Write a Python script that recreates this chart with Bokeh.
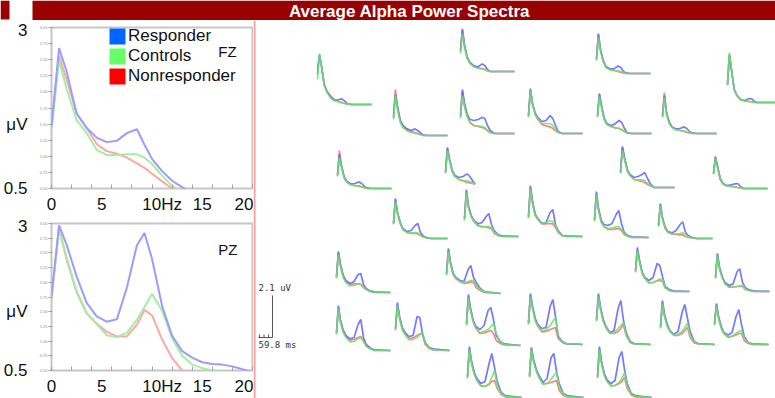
import numpy as np
from bokeh.plotting import figure
from bokeh.layouts import column, row
from bokeh.models import (Range1d, LinearAxis, FixedTicker, PrintfTickFormatter,
                          Label, Legend, LegendItem, Span, BoxAnnotation)
from bokeh.embed import file_html
from bokeh.resources import INLINE

nan = float("nan")

TITLE = "Average Alpha Power Spectra"
GROUPS = ["Responder", "Controls", "Nonresponder"]

# ---- main panels (FZ, PZ): power in uV vs frequency in Hz ----
FREQ = [0, 0.75, 1.5, 2.5, 3.5, 4.5, 5.5, 6.5, 7.5, 8.5, 9.25, 10, 11, 12, 13, 14, 15, 16, 17, 18, 19, 20]
FZ_RESP = [1.46, 2.68, 2.32, 1.66, 1.44, 1.29, 1.22, 1.24, 1.36, 1.42, 1.18, 0.96, 0.77, 0.62, 0.52, 0.44, 0.40, 0.37, 0.35, 0.34, 0.33, 0.32]
FZ_CTRL = [1.41, 2.49, 2.05, 1.56, 1.36, 1.10, 1.02, 1.02, 1.03, 1.03, 0.98, 0.88, 0.70, 0.54, 0.44, 0.38, 0.35, 0.33, 0.32, 0.31, 0.30, 0.30]
FZ_NONR = [1.48, 2.56, 2.19, 1.67, 1.44, 1.19, 1.08, 1.04, 0.98, 0.89, 0.82, 0.73, 0.61, 0.50, 0.42, 0.37, 0.34, 0.32, 0.31, 0.30, 0.30, 0.29]
PZ_RESP = [1.76, 2.97, 2.64, 2.10, 1.65, 1.42, 1.33, 1.37, 1.91, 2.63, 2.84, 2.40, 1.60, 1.09, 0.83, 0.72, 0.64, 0.61, 0.60, 0.57, 0.52, 0.48]
PZ_CTRL = [1.71, 2.91, 2.43, 1.85, 1.48, 1.29, 1.10, 1.07, 1.14, 1.36, 1.58, 1.80, 1.52, 1.05, 0.75, 0.60, 0.54, 0.50, 0.47, 0.45, 0.44, 0.43]
PZ_NONR = [1.76, 2.92, 2.39, 1.83, 1.47, 1.30, 1.16, 1.08, 1.08, 1.28, 1.53, 1.44, 1.03, 0.71, 0.50, 0.42, 0.38, 0.36, 0.35, 0.34, 0.33, 0.33]
X_TICKS = [0, 5, 10, 15, 20]
X_TICK_LABELS = ["0", "5", "10Hz", "15", "20"]
Y_TICKS_INNER = [0.5, 0.75, 1.0, 1.25, 1.5, 1.75, 2.0, 2.25, 2.5, 2.75, 3.0]

# ---- small topographic spectra (one per electrode), uV at MINI_FREQ ----
MINI_FREQ = [0, 0.7, 1.5, 2.5, 3.5, 5, 6.5, 8, 9, 10, 11, 12.5, 14, 20]
MINI_RESP = [
    [2.0, 3.0, 2.4, 1.5, 1.15, 0.9, 0.7, 0.75, 0.78, 0.68, 0.55, 0.5, 0.5, 0.5],
    [1.5, 2.6, 1.8, 1.2, 0.95, 0.78, 0.73, 0.88, 0.8, 0.6, 0.5, 0.5, 0.5, 0.5],
    [1.4, 2.55, 1.9, 1.25, 1.0, 0.83, 0.75, 0.83, 0.75, 0.63, 0.53, 0.5, 0.5, 0.5],
    [1.35, 2.7, 2.0, 1.45, 1.2, 1.15, 1.2, 1.3, 1.25, 0.9, 0.65, 0.5, 0.5, 0.5],
    [1.4, 2.75, 2.0, 1.5, 1.3, 1.1, 1.15, 1.4, 1.25, 0.9, 0.6, 0.5, 0.5, 0.5],
    [1.15, 2.2, 1.6, 1.05, 0.85, 0.73, 0.75, 0.83, 0.75, 0.6, 0.53, 0.5, 0.5, 0.5],
    [1.1, 2.35, 1.75, 1.2, 0.95, 0.85, 0.9, 1.03, 0.9, 0.7, 0.53, nan, nan, nan],
    [1.2, 2.5, 1.7, 1.15, 0.85, 0.73, 0.73, 0.88, 0.8, 0.6, 0.53, 0.5, 0.5, 0.5],
    [1.4, 2.9, 2.1, 1.15, 0.85, 0.63, 0.6, 0.7, 0.68, 0.55, 0.5, 0.5, 0.5, 0.5],
    [1.4, 2.5, 1.9, 1.25, 1.0, 0.9, 0.98, 1.15, 1.05, 0.75, 0.53, 0.5, 0.5, 0.5],
    [1.35, 2.4, 1.5, 1.05, 0.83, 0.73, 0.75, 0.83, 0.75, 0.6, 0.53, 0.5, 0.5, 0.5],
    [1.25, 2.55, 2.0, 1.4, 1.15, 1.0, 1.05, 1.15, 1.25, 0.95, 0.7, 0.5, 0.5, 0.5],
    [1.25, 2.1, 1.6, 1.0, 0.75, 0.65, 0.68, 0.73, 0.75, 0.6, 0.5, 0.5, 0.5, 0.5],
    [1.25, 2.5, 1.8, 1.3, 1.0, 0.85, 0.9, 1.15, 1.25, 0.8, 0.63, 0.53, 0.5, 0.5],
    [1.4, 2.85, 2.0, 1.55, 1.3, 1.13, 1.2, 1.5, 1.65, 1.1, 0.8, 0.58, 0.53, 0.5],
    [1.5, 3.05, 2.25, 1.6, 1.4, 1.15, 1.2, 1.7, 1.85, 1.1, 0.8, 0.55, 0.53, 0.5],
    [1.3, 2.55, 1.9, 1.35, 1.1, 0.95, 1.05, 1.4, 1.45, 0.9, 0.7, 0.58, 0.53, 0.5],
    [1.5, 2.75, 2.05, 1.5, 1.3, 1.15, 1.1, 1.7, 1.9, 1.3, 1.05, 0.75, 0.6, 0.5],
    [1.4, 2.75, 2.0, 1.5, 1.25, 1.08, 1.15, 1.8, 2.05, 1.15, 0.8, 0.63, 0.53, 0.5],
    [1.6, 2.9, 2.2, 1.65, 1.4, 1.2, 1.25, 2.2, 2.15, 1.35, 0.9, 0.65, 0.58, 0.5],
    [1.6, 3.05, 2.35, 1.75, 1.45, 1.3, 1.5, 2.25, 2.4, 1.8, 1.0, 0.7, 0.58, 0.5],
    [1.55, 3.05, 2.3, 1.75, 1.45, 1.2, 1.3, 2.2, 2.7, 2.0, 1.3, 0.75, 0.6, 0.5],
    [1.4, 2.8, 1.95, 1.35, 1.15, 1.1, 1.2, 1.65, 1.85, 1.2, 0.75, 0.58, 0.53, 0.5],
    [1.15, 2.25, 1.5, 1.05, 0.85, 0.78, 0.9, 1.2, 1.33, 0.8, 0.65, 0.55, 0.5, 0.5],
    [1.55, 2.7, 2.05, 1.45, 1.2, 1.05, 1.2, 1.9, 1.8, 1.25, 0.75, 0.6, 0.53, 0.5],
    [1.2, 2.4, 1.7, 1.25, 0.95, 0.8, 0.88, 1.5, 1.63, 0.95, 0.7, 0.58, 0.53, 0.5],
    [1.6, 3.05, 2.4, 1.8, 1.5, 1.3, 1.35, 2.4, 2.75, 1.9, 0.9, 0.65, 0.55, 0.5],
    [1.75, 3.05, 2.35, 1.75, 1.4, 1.1, 1.2, 2.3, 2.7, 1.7, 1.1, 0.65, 0.55, 0.5],
    [1.4, 2.7, 2.0, 1.5, 1.2, 1.0, 1.15, 2.1, 2.5, 1.8, 1.15, 0.65, 0.55, 0.5],
    [1.55, 2.55, 1.9, 1.4, 1.1, 0.98, 1.1, 1.9, 2.25, 1.5, 0.9, 0.6, 0.53, 0.5],
    [1.6, 3.0, 2.4, 1.9, 1.6, 1.25, 1.45, 2.5, 2.7, 1.8, 1.2, 0.7, 0.6, 0.5],
    [1.55, 3.05, 2.3, 1.7, 1.4, 1.2, 1.35, 2.5, 2.8, 1.9, 1.2, 0.7, 0.6, 0.5],
]
MINI_CTRL = [
    [1.75, 3.05, 2.4, 1.45, 1.1, 0.8, 0.68, 0.63, 0.58, 0.55, 0.53, 0.5, 0.5, 0.5],
    [1.4, 2.4, 1.7, 1.15, 0.9, 0.73, 0.65, 0.63, 0.6, 0.55, 0.5, 0.5, 0.5, 0.5],
    [1.3, 2.5, 1.8, 1.15, 0.9, 0.73, 0.65, 0.6, 0.58, 0.55, 0.5, 0.5, 0.5, 0.5],
    [1.25, 2.4, 1.85, 1.35, 1.05, 0.9, 0.88, 0.85, 0.8, 0.65, 0.55, 0.5, 0.5, 0.5],
    [1.3, 2.65, 1.95, 1.45, 1.2, 1.0, 1.0, 1.0, 0.9, 0.7, 0.55, 0.5, 0.5, 0.5],
    [1.1, 2.05, 1.55, 1.0, 0.8, 0.68, 0.63, 0.6, 0.58, 0.55, 0.5, 0.5, 0.5, 0.5],
    [1.05, 2.2, 1.7, 1.15, 0.9, 0.75, 0.7, 0.68, 0.65, 0.58, 0.53, nan, nan, nan],
    [1.15, 2.3, 1.6, 1.1, 0.8, 0.68, 0.65, 0.63, 0.6, 0.55, 0.5, 0.5, 0.5, 0.5],
    [1.35, 3.0, 2.15, 1.15, 0.85, 0.63, 0.58, 0.55, 0.53, 0.5, 0.5, 0.5, 0.5, 0.5],
    [1.3, 2.35, 1.8, 1.2, 0.95, 0.85, 0.8, 0.75, 0.7, 0.6, 0.53, 0.5, 0.5, 0.5],
    [1.3, 2.3, 1.45, 1.0, 0.8, 0.68, 0.65, 0.63, 0.58, 0.55, 0.5, 0.5, 0.5, 0.5],
    [1.2, 2.35, 1.9, 1.35, 1.1, 0.9, 0.88, 0.88, 0.85, 0.7, 0.6, 0.5, 0.5, 0.5],
    [1.2, 2.0, 1.55, 0.95, 0.73, 0.63, 0.6, 0.58, 0.55, 0.53, 0.5, 0.5, 0.5, 0.5],
    [1.2, 2.35, 1.75, 1.25, 0.95, 0.8, 0.78, 0.78, 0.78, 0.65, 0.58, 0.53, 0.5, 0.5],
    [1.3, 2.7, 1.9, 1.5, 1.25, 1.03, 1.0, 1.0, 1.0, 0.95, 0.7, 0.55, 0.5, 0.5],
    [1.4, 2.9, 2.15, 1.55, 1.35, 1.15, 1.2, 1.3, 1.25, 1.05, 0.75, 0.55, 0.5, 0.5],
    [1.2, 2.4, 1.8, 1.25, 1.0, 0.83, 0.85, 0.95, 0.93, 0.75, 0.65, 0.55, 0.5, 0.5],
    [1.4, 2.6, 1.95, 1.45, 1.25, 1.1, 1.05, 1.1, 1.15, 1.15, 0.9, 0.7, 0.58, 0.5],
    [1.3, 2.6, 1.9, 1.4, 1.15, 0.93, 0.95, 1.1, 1.15, 0.95, 0.7, 0.58, 0.5, 0.5],
    [1.5, 2.75, 2.1, 1.55, 1.3, 1.03, 1.05, 1.15, 1.3, 1.4, 0.9, 0.63, 0.53, 0.5],
    [1.5, 2.9, 2.25, 1.65, 1.35, 1.15, 1.2, 1.3, 1.45, 1.6, 1.1, 0.7, 0.55, 0.5],
    [1.45, 2.9, 2.2, 1.65, 1.35, 1.05, 1.05, 1.2, 1.5, 1.85, 1.05, 0.7, 0.55, 0.5],
    [1.3, 2.65, 1.85, 1.25, 1.05, 0.95, 0.98, 1.03, 1.05, 0.9, 0.7, 0.55, 0.5, 0.5],
    [1.1, 2.15, 1.45, 1.0, 0.8, 0.73, 0.73, 0.75, 0.78, 0.65, 0.58, 0.53, 0.5, 0.5],
    [1.45, 2.55, 1.95, 1.4, 1.15, 0.93, 0.95, 1.05, 1.13, 1.1, 0.7, 0.55, 0.5, 0.5],
    [1.15, 2.3, 1.6, 1.2, 0.9, 0.7, 0.73, 0.75, 0.78, 0.8, 0.63, 0.55, 0.5, 0.5],
    [1.5, 2.9, 2.3, 1.7, 1.4, 1.18, 1.23, 1.45, 1.65, 1.85, 0.95, 0.65, 0.55, 0.5],
    [1.65, 2.9, 2.25, 1.65, 1.35, 1.05, 1.1, 1.3, 1.45, 1.6, 1.0, 0.6, 0.53, 0.5],
    [1.3, 2.55, 1.9, 1.4, 1.15, 0.95, 1.0, 1.15, 1.35, 1.55, 0.95, 0.6, 0.53, 0.5],
    [1.45, 2.45, 1.8, 1.3, 1.05, 0.88, 0.93, 1.05, 1.15, 1.2, 0.8, 0.58, 0.5, 0.5],
    [1.5, 2.9, 2.3, 1.8, 1.5, 1.15, 1.2, 1.4, 1.6, 1.75, 1.0, 0.65, 0.55, 0.5],
    [1.45, 2.9, 2.2, 1.6, 1.3, 1.05, 1.1, 1.25, 1.45, 1.75, 1.05, 0.65, 0.55, 0.5],
]
MINI_NONR = [
    [2.25, 2.95, 2.4, 1.5, 1.15, 0.85, 0.73, 0.65, 0.6, 0.55, 0.53, 0.5, 0.5, 0.5],
    [1.6, 2.65, 1.8, 1.2, 0.93, 0.75, 0.68, 0.65, 0.6, 0.53, 0.5, 0.5, 0.5, 0.5],
    [1.5, 2.8, 1.95, 1.25, 0.95, 0.78, 0.7, 0.65, 0.6, 0.55, 0.5, 0.5, 0.5, 0.5],
    [1.4, 2.6, 1.9, 1.35, 1.05, 0.9, 0.85, 0.8, 0.75, 0.65, 0.55, 0.5, 0.5, 0.5],
    [1.4, 2.7, 1.95, 1.45, 1.2, 0.95, 0.88, 0.83, 0.75, 0.65, 0.55, 0.5, 0.5, 0.5],
    [1.2, 2.4, 1.65, 1.05, 0.83, 0.7, 0.65, 0.63, 0.58, 0.53, 0.5, 0.5, 0.5, 0.5],
    [1.15, 2.3, 1.75, 1.15, 0.9, 0.75, 0.68, 0.6, 0.58, 0.55, 0.5, nan, nan, nan],
    [1.25, 2.45, 1.65, 1.1, 0.83, 0.7, 0.65, 0.6, 0.55, 0.53, 0.5, 0.5, 0.5, 0.5],
    [1.4, 2.9, 2.1, 1.15, 0.85, 0.63, 0.58, 0.55, 0.53, 0.5, 0.5, 0.5, 0.5, 0.5],
    [1.35, 2.45, 1.85, 1.2, 0.95, 0.85, 0.78, 0.75, 0.68, 0.6, 0.53, 0.5, 0.5, 0.5],
    [1.4, 2.55, 1.55, 1.05, 0.83, 0.7, 0.65, 0.6, 0.55, 0.53, 0.5, 0.5, 0.5, 0.5],
    [1.25, 2.5, 1.95, 1.35, 1.1, 0.9, 0.85, 0.8, 0.75, 0.65, 0.58, 0.5, 0.5, 0.5],
    [1.25, 2.05, 1.6, 0.95, 0.73, 0.63, 0.6, 0.58, 0.55, 0.53, 0.5, 0.5, 0.5, 0.5],
    [1.25, 2.45, 1.75, 1.25, 0.95, 0.8, 0.75, 0.75, 0.73, 0.65, 0.58, 0.53, 0.5, 0.5],
    [1.35, 2.75, 1.95, 1.5, 1.25, 1.03, 0.98, 0.98, 0.93, 0.88, 0.65, 0.55, 0.5, 0.5],
    [1.45, 2.95, 2.2, 1.55, 1.35, 1.13, 1.13, 1.15, 1.13, 0.95, 0.7, 0.55, 0.5, 0.5],
    [1.25, 2.5, 1.85, 1.3, 1.05, 0.9, 0.93, 0.93, 0.9, 0.75, 0.65, 0.55, 0.5, 0.5],
    [1.45, 2.65, 2.0, 1.45, 1.25, 1.1, 1.0, 1.03, 1.08, 1.05, 0.8, 0.65, 0.55, 0.5],
    [1.35, 2.65, 1.95, 1.45, 1.2, 1.0, 1.05, 1.15, 1.2, 1.0, 0.75, 0.6, 0.5, 0.5],
    [1.55, 2.8, 2.15, 1.6, 1.35, 1.1, 1.13, 1.25, 1.33, 1.3, 0.8, 0.6, 0.53, 0.5],
    [1.55, 2.95, 2.3, 1.7, 1.35, 1.1, 1.13, 1.2, 1.25, 1.1, 0.75, 0.6, 0.53, 0.5],
    [1.5, 2.95, 2.25, 1.7, 1.35, 1.1, 1.05, 1.15, 1.3, 1.35, 0.95, 0.65, 0.53, 0.5],
    [1.35, 2.7, 1.9, 1.3, 1.05, 0.9, 0.9, 0.93, 0.95, 0.85, 0.65, 0.55, 0.5, 0.5],
    [1.15, 2.2, 1.5, 1.0, 0.8, 0.73, 0.7, 0.68, 0.68, 0.6, 0.55, 0.53, 0.5, 0.5],
    [1.5, 2.6, 2.0, 1.4, 1.15, 0.93, 0.95, 1.03, 1.05, 1.0, 0.68, 0.55, 0.5, 0.5],
    [1.2, 2.35, 1.65, 1.2, 0.9, 0.73, 0.73, 0.75, 0.75, 0.75, 0.6, 0.55, 0.5, 0.5],
    [1.55, 2.95, 2.35, 1.7, 1.4, 1.13, 1.15, 1.25, 1.3, 1.35, 0.8, 0.6, 0.53, 0.5],
    [1.7, 2.95, 2.3, 1.7, 1.35, 1.05, 1.05, 1.15, 1.3, 1.5, 0.95, 0.6, 0.53, 0.5],
    [1.35, 2.6, 1.95, 1.45, 1.15, 0.95, 0.95, 1.05, 1.2, 1.35, 0.85, 0.58, 0.53, 0.5],
    [1.5, 2.5, 1.85, 1.35, 1.05, 0.85, 0.9, 0.98, 1.05, 1.05, 0.7, 0.55, 0.5, 0.5],
    [1.55, 2.95, 2.35, 1.85, 1.55, 1.2, 1.2, 1.25, 1.3, 1.35, 0.85, 0.6, 0.53, 0.5],
    [1.5, 2.95, 2.25, 1.65, 1.35, 1.1, 1.1, 1.2, 1.3, 1.5, 0.95, 0.63, 0.53, 0.5],
]
SCALE_UV = 2.1
SCALE_MS = 59.8

# ---- layout (positions / sizes / styles) ----
# mini plot anchors in page-pixel space: left edge, floor line
MINI_X0 = [317, 460, 393, 460, 528, 337, 445, 596, 727, 597, 662, 620, 713, 393, 464, 528,
           336, 446, 336, 395, 466, 467, 594, 658, 635, 715, 528, 596, 660, 714, 529, 597]
MINI_Y0 = [104, 71, 135, 133, 133, 188, 184, 73, 102, 133, 133, 187, 188, 238, 236, 236,
           292, 293, 350, 350, 345, 397, 237, 238, 291, 291, 344, 344, 344, 344, 397, 397]
MINI_PX_PER_HZ = 2.7
MINI_PX_PER_UV = 20.0
MINI_FLOOR = 0.5

PAGE_W, PAGE_H = 775, 398
LEFT_W = 253
RIGHT_W = PAGE_W - LEFT_W
TITLE_H, FZ_H = 20, 196
PZ_H = PAGE_H - TITLE_H - FZ_H
RIGHT_H = PAGE_H - TITLE_H
BORDER_L, BORDER_R, BORDER_T = 45, 1, 7

FONT = "Liberation Sans"
TICK_FONT_PX = 17
MAIN_COLORS = {"Responder": "#9c9cff", "Controls": "#a3eea3", "Nonresponder": "#ffa6a6"}
MINI_COLORS = {"Responder": "#6262ff", "Controls": "#6ae46a", "Nonresponder": "#ff6c6c"}
LEGEND_COLORS = {"Responder": "#0066ff", "Controls": "#66ff66", "Nonresponder": "#ff0000"}
BAR_RED = "#990000"

# "Hz" is written right after the 10 tick; shift that tick label so "10" stays centred on 10
_px_per_hz = (LEFT_W - BORDER_L - BORDER_R) / 20.0
_hz_half_px = (0.722 + 0.5) * TICK_FONT_PX / 2.0
X_LABEL_POS = [t + (_hz_half_px / _px_per_hz if lab.endswith("Hz") else 0.0)
               for t, lab in zip(X_TICKS, X_TICK_LABELS)]


def main_panel(name, series, height, name_y, with_legend):
    p = figure(width=LEFT_W, height=height, x_range=Range1d(0, 20), y_range=Range1d(0.5, 3.0),
               output_backend="svg", toolbar_location=None,
               x_axis_location=None, y_axis_location=None,
               min_border_left=BORDER_L, min_border_right=BORDER_R,
               min_border_top=BORDER_T, min_border_bottom=0)
    p.grid.visible = False
    p.outline_line_color = "#c6c6c6"
    p.outline_line_width = 2

    inner = LinearAxis(ticker=FixedTicker(ticks=Y_TICKS_INNER),
                       formatter=PrintfTickFormatter(format="%.2f"))
    inner.axis_line_color = None
    inner.major_tick_line_color = "#a0a0a0"
    inner.major_tick_in = 1
    inner.major_tick_out = 3
    inner.minor_tick_line_color = None
    inner.major_label_text_font = FONT
    inner.major_label_text_font_size = "4px"
    inner.major_label_text_color = "#8a8a8a"
    inner.major_label_standoff = 1
    p.add_layout(inner, "left")

    outer = LinearAxis(ticker=FixedTicker(ticks=[0.5, 1.5, 3.0]),
                       major_label_overrides={0.5: "0.5", 1.5: "μV", 3.0: "3"})
    outer.axis_line_color = None
    outer.major_tick_line_color = None
    outer.minor_tick_line_color = None
    outer.major_label_text_font = FONT
    outer.major_label_text_font_size = f"{TICK_FONT_PX}px"
    outer.major_label_text_color = "#111111"
    outer.major_label_standoff = 3
    p.add_layout(outer, "left")

    xa = LinearAxis(ticker=FixedTicker(ticks=X_LABEL_POS, minor_ticks=list(range(0, 21, 2))),
                    major_label_overrides={pos: lab for pos, lab in zip(X_LABEL_POS, X_TICK_LABELS)})
    xa.axis_line_color = None
    xa.major_tick_line_color = None
    xa.minor_tick_line_color = "#a0a0a0"
    xa.minor_tick_in = 4
    xa.minor_tick_out = 0
    xa.major_label_text_font = FONT
    xa.major_label_text_font_size = f"{TICK_FONT_PX}px"
    xa.major_label_text_color = "#111111"
    xa.major_label_standoff = 0
    p.add_layout(xa, "below")

    for g in ["Nonresponder", "Controls", "Responder"]:
        p.line(FREQ, series[g], line_color=MAIN_COLORS[g], line_width=2)

    p.add_layout(Label(x=16.6, y=name_y, text=name, text_font=FONT, text_font_size="15px",
                       text_color="#111111", text_align="left", text_baseline="middle"))

    if with_legend:
        items = []
        for g in GROUPS:
            r = p.quad(left=[nan], right=[nan], top=[nan], bottom=[nan],
                       fill_color=LEGEND_COLORS[g], line_color=None)
            items.append(LegendItem(label=g, renderers=[r]))
        leg = Legend(items=items, location=(56, 102), orientation="vertical",
                     glyph_width=20, glyph_height=20, label_height=20, spacing=0,
                     padding=0, margin=0, label_standoff=1,
                     border_line_color=None, background_fill_alpha=0,
                     label_text_font=FONT, label_text_font_size="17px",
                     label_text_color="#111111", label_text_baseline="middle")
        p.add_layout(leg)
    return p


fz = main_panel("FZ", {"Responder": FZ_RESP, "Controls": FZ_CTRL, "Nonresponder": FZ_NONR},
                FZ_H, 2.62, True)
pz = main_panel("PZ", {"Responder": PZ_RESP, "Controls": PZ_CTRL, "Nonresponder": PZ_NONR},
                PZ_H, 2.55, False)

# ---- title bar ----
t = figure(width=PAGE_W, height=TITLE_H, x_range=Range1d(0, PAGE_W), y_range=Range1d(TITLE_H, 0),
           output_backend="svg", toolbar_location=None,
           x_axis_location=None, y_axis_location=None, min_border=0)
t.grid.visible = False
t.outline_line_color = None
t.add_layout(BoxAnnotation(left=0, right=9, top=0, bottom=19, fill_color=BAR_RED,
                           fill_alpha=1, line_color=None))
t.add_layout(BoxAnnotation(left=32, right=PAGE_W, top=0, bottom=20, fill_color=BAR_RED,
                           fill_alpha=1, line_color=None))
t.add_layout(Label(x=409, y=10.5, text=TITLE, text_font=FONT, text_font_size="17px",
                   text_font_style="bold", text_color="white", text_align="center",
                   text_baseline="middle"))

# ---- topographic mini spectra ----
q = figure(width=RIGHT_W, height=RIGHT_H, x_range=Range1d(LEFT_W, PAGE_W),
           y_range=Range1d(PAGE_H, TITLE_H),
           output_backend="svg", toolbar_location=None,
           x_axis_location=None, y_axis_location=None, min_border=0)
q.grid.visible = False
q.outline_line_color = None
q.add_layout(Span(location=254, dimension="height", line_color="#ff9c9c", line_width=2))

f_arr = np.array(MINI_FREQ, dtype=float)


def mini_xy(vals_list):
    xs, ys = [], []
    for x0, y0, vals in zip(MINI_X0, MINI_Y0, vals_list):
        v = np.array(vals, dtype=float)
        xs.append(x0 + f_arr * MINI_PX_PER_HZ)
        ys.append(y0 - (np.maximum(v, MINI_FLOOR) - MINI_FLOOR) * MINI_PX_PER_UV)
    return xs, ys


for g, vals in [("Nonresponder", MINI_NONR), ("Responder", MINI_RESP), ("Controls", MINI_CTRL)]:
    xs, ys = mini_xy(vals)
    q.multi_line(xs, ys, line_color=MINI_COLORS[g], line_width=1.7, line_alpha=0.85)

# scale bar
bar_x, bar_left, bar_bottom = 272, 258, 337
bar_top = bar_bottom - SCALE_UV * MINI_PX_PER_UV
q.segment(x0=[bar_x], y0=[bar_bottom], x1=[bar_x], y1=[bar_top], line_color="#555555", line_width=1)
q.segment(x0=[bar_left], y0=[bar_bottom], x1=[bar_x], y1=[bar_bottom], line_color="#555555", line_width=1)
q.segment(x0=[259, 263.5, 268], y0=[bar_bottom] * 3, x1=[259, 263.5, 268], y1=[bar_bottom - 3] * 3,
          line_color="#555555", line_width=1)
q.add_layout(Label(x=bar_left, y=bar_top - 3, text=f"{SCALE_UV} uV", text_font="DejaVu Sans Mono",
                   text_font_size="9px", text_color="#333333", text_align="left",
                   text_baseline="bottom"))
q.add_layout(Label(x=bar_left, y=bar_bottom + 2, text=f"{SCALE_MS} ms", text_font="DejaVu Sans Mono",
                   text_font_size="9px", text_color="#333333", text_align="left",
                   text_baseline="top"))

layout = column(t, row(column(fz, pz), q))
open("out.html", "w").write(file_html(layout, INLINE))
